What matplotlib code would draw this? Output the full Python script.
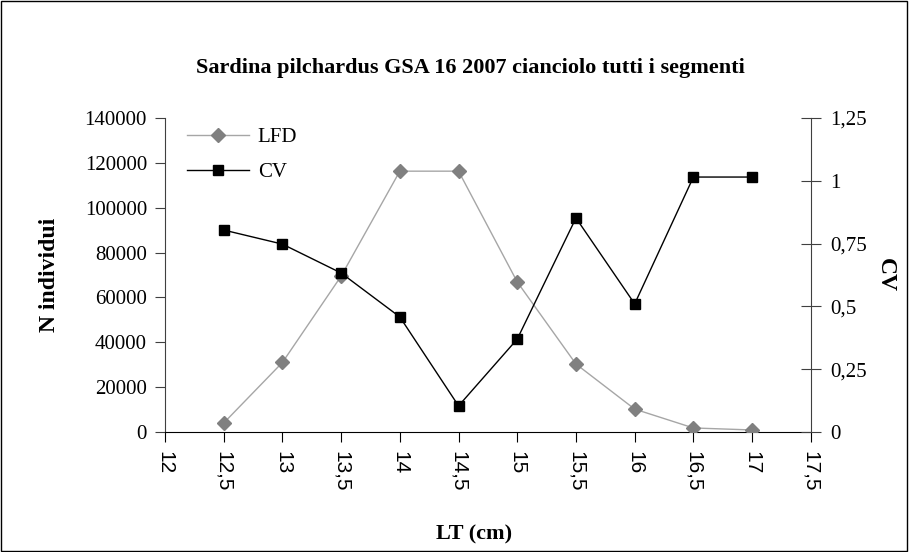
import numpy as np
import matplotlib
matplotlib.use('Agg')
from matplotlib import pyplot as plt
from matplotlib.patches import Rectangle

# values
lt = [12.5, 13, 13.5, 14, 14.5, 15, 15.5, 16, 16.5, 17]
lfd = [4000, 31000, 69500, 116300, 116300, 66900, 30300, 10200, 1800, 900]
cv = [0.804, 0.748, 0.633, 0.458, 0.104, 0.370, 0.852, 0.510, 1.015, 1.015]
x_ticks = [12, 12.5, 13, 13.5, 14, 14.5, 15, 15.5, 16, 16.5, 17, 17.5]
left_ticks = [0, 20000, 40000, 60000, 80000, 100000, 120000, 140000]
right_ticks = [0, 0.25, 0.5, 0.75, 1, 1.25]


def comma(v):
    return ('%g' % v).replace('.', ',')


plt.rcParams['font.family'] = ['Liberation Serif', 'DejaVu Serif']

fig = plt.figure(figsize=(9.09, 5.52), dpi=100)
fig.patches.append(Rectangle((0.001, 0.001), 0.997, 0.997, transform=fig.transFigure,
                             fill=False, edgecolor='black', linewidth=1.0))

ax = fig.add_axes([0.1815, 0.2174, 0.7105, 0.5688])
ax2 = ax.twinx()

l1, = ax.plot(lt, lfd, color='#a6a6a6', linewidth=1.0, marker='D', markersize=7.5,
              markerfacecolor='#808080', markeredgecolor='#808080', label='LFD', zorder=3)
l2, = ax2.plot(lt, cv, color='black', linewidth=1.0, marker='s', markersize=7.5,
               markerfacecolor='black', markeredgecolor='black', label='CV', zorder=3)

ax.set_xlim(12, 17.5)
ax.set_ylim(0, 140000)
ax2.set_ylim(0, 1.25)

ax.set_xticks(x_ticks)
ax.set_xticklabels([comma(v) for v in x_ticks], rotation=270, family='Liberation Sans', fontsize=15)
ax.set_yticks(left_ticks)
ax.set_yticklabels([str(v) for v in left_ticks], fontsize=15)
ax2.set_yticks(right_ticks)
ax2.set_yticklabels([comma(v) for v in right_ticks], fontsize=15)

for a in (ax, ax2):
    a.spines['top'].set_visible(False)
    a.patch.set_visible(False)
ax.spines['right'].set_visible(False)
ax2.spines['left'].set_visible(False)
ax2.spines['bottom'].set_visible(False)
ax.spines['left'].set_color('#404040')
ax2.spines['right'].set_color('#404040')

ax.tick_params(axis='x', direction='out', length=7, pad=7)
ax.tick_params(axis='y', direction='out', length=7, color='#404040', pad=6)
ax2.tick_params(axis='y', direction='inout', length=14, color='#404040', pad=7)

ax.set_ylabel('N individui', fontsize=17, fontweight='bold')
ax.yaxis.set_label_coords(-0.162, 0.5)
ax2.set_ylabel('CV', fontsize=17, fontweight='bold', rotation=270, va='center')
ax2.yaxis.set_label_coords(1.115, 0.5)
fig.text(0.521, 0.031, 'LT (cm)', ha='center', va='center', fontsize=16, fontweight='bold')
fig.text(0.518, 0.877, 'Sardina pilchardus GSA 16 2007 cianciolo tutti i segmenti',
         ha='center', va='center', fontsize=16, fontweight='bold')

ax.legend([l1, l2], ['LFD', 'CV'], loc='upper left', bbox_to_anchor=(0.005, 1.03),
          frameon=False, fontsize=15, handlelength=3.0, labelspacing=0.75, handletextpad=0.4)

fig.savefig('out.png', dpi=100)
